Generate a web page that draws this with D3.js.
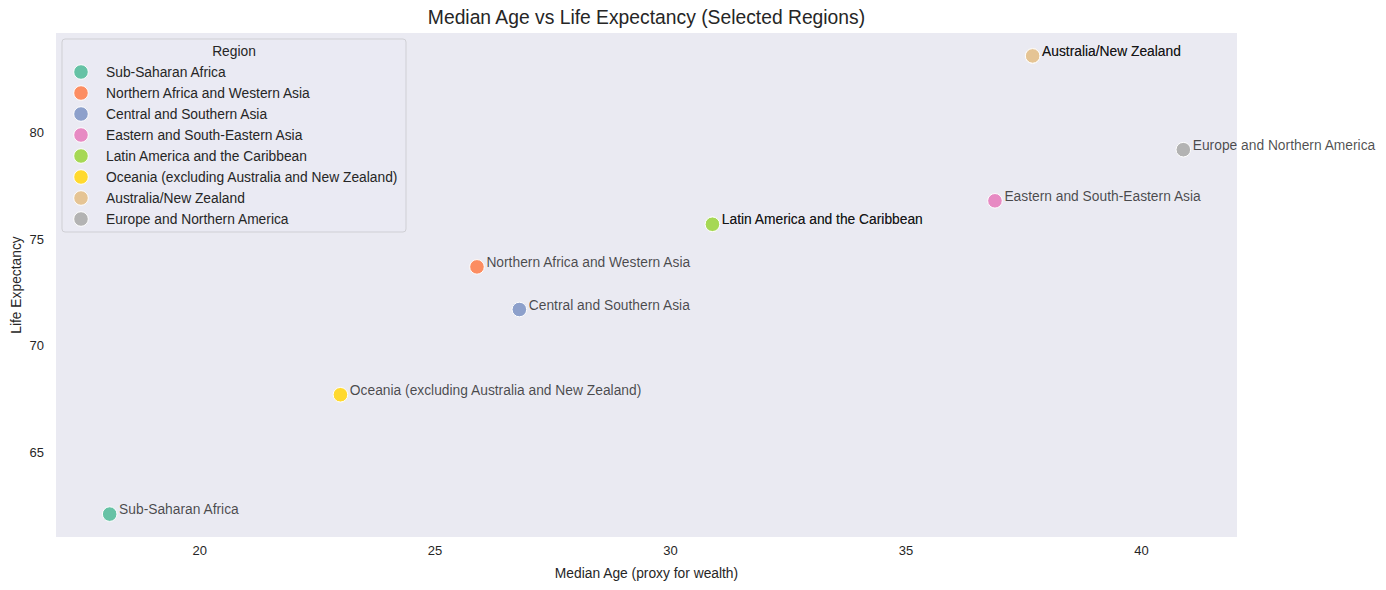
<!DOCTYPE html>
<html>
<head>
<meta charset="utf-8">
<script src="https://cdn.jsdelivr.net/npm/d3@7"></script>
<style>
  html, body { margin: 0; padding: 0; background: #fff; }
  text { font-family: "Liberation Sans", Arial, sans-serif; }
</style>
</head>
<body>
<script>
// rows as they appear in the source table (two regions are listed twice)
const regions = [
  "Sub-Saharan Africa",
  "Northern Africa and Western Asia",
  "Central and Southern Asia",
  "Eastern and South-Eastern Asia",
  "Latin America and the Caribbean",
  "Latin America and the Caribbean",
  "Oceania (excluding Australia and New Zealand)",
  "Australia/New Zealand",
  "Australia/New Zealand",
  "Europe and Northern America"
];
const medianAge = [18.1, 25.9, 26.8, 36.9, 30.9, 30.9, 23.0, 37.7, 37.7, 40.9];
const lifeExpectancy = [62.1, 73.7, 71.7, 76.8, 75.7, 75.7, 67.7, 83.6, 83.6, 79.2];

const legendOrder = [
  "Sub-Saharan Africa",
  "Northern Africa and Western Asia",
  "Central and Southern Asia",
  "Eastern and South-Eastern Asia",
  "Latin America and the Caribbean",
  "Oceania (excluding Australia and New Zealand)",
  "Australia/New Zealand",
  "Europe and Northern America"
];
const palette = ["#66c2a5", "#fc8d62", "#8da0cb", "#e78ac3", "#a6d854", "#ffd92f", "#e5c494", "#b3b3b3"];

const xTicks = [20, 25, 30, 35, 40];
const yTicks = [65, 70, 75, 80];

const width = 1386;
const height = 590;
const margin = { top: 33, right: 149, bottom: 53, left: 56 };
const innerW = width - margin.left - margin.right;
const innerH = height - margin.top - margin.bottom;

const rows = regions.map((r, i) => ({ region: r, x: medianAge[i], y: lifeExpectancy[i] }));

// matplotlib-style 5% padding around the data
function padded(values) {
  const [lo, hi] = d3.extent(values);
  const pad = (hi - lo) * 0.05;
  return [lo - pad, hi + pad];
}

const x = d3.scaleLinear().domain(padded(medianAge)).range([0, innerW]);
const y = d3.scaleLinear().domain(padded(lifeExpectancy)).range([innerH, 0]);
const color = d3.scaleOrdinal().domain(legendOrder).range(palette);

const svg = d3.select("body")
  .append("svg")
  .attr("width", width)
  .attr("height", height);

svg.append("text")
  .attr("x", margin.left + innerW / 2)
  .attr("y", 24)
  .attr("text-anchor", "middle")
  .attr("font-size", "19.3px")
  .attr("fill", "#262626")
  .text("Median Age vs Life Expectancy (Selected Regions)");

const g = svg.append("g")
  .attr("transform", `translate(${margin.left},${margin.top})`);

g.append("rect")
  .attr("width", innerW)
  .attr("height", innerH)
  .attr("fill", "#eaeaf2");

const xAxis = g.append("g")
  .attr("transform", `translate(0,${innerH})`)
  .call(d3.axisBottom(x).tickValues(xTicks).tickSize(0).tickPadding(9));
xAxis.select(".domain").remove();
xAxis.selectAll("text")
  .attr("font-size", "13px")
  .attr("fill", "#262626");

const yAxis = g.append("g")
  .call(d3.axisLeft(y).tickValues(yTicks).tickSize(0).tickPadding(12));
yAxis.select(".domain").remove();
yAxis.selectAll("text")
  .attr("font-size", "13px")
  .attr("fill", "#262626");

svg.append("text")
  .attr("x", margin.left + innerW / 2)
  .attr("y", 578)
  .attr("text-anchor", "middle")
  .attr("font-size", "13.8px")
  .attr("fill", "#262626")
  .text("Median Age (proxy for wealth)");

svg.append("text")
  .attr("transform", `translate(21,${margin.top + innerH / 2}) rotate(-90)`)
  .attr("text-anchor", "middle")
  .attr("font-size", "13.8px")
  .attr("fill", "#262626")
  .text("Life Expectancy");

// points
g.selectAll("circle.pt")
  .data(rows)
  .enter().append("circle")
  .attr("class", "pt")
  .attr("cx", d => x(d.x))
  .attr("cy", d => y(d.y))
  .attr("r", 7.3)
  .attr("fill", d => color(d.region))
  .attr("stroke", "#fff")
  .attr("stroke-width", 1);

// labels, semi-transparent so duplicated rows show darker
g.selectAll("text.lbl")
  .data(rows)
  .enter().append("text")
  .attr("class", "lbl")
  .attr("x", d => x(d.x + 0.2))
  .attr("y", d => y(d.y))
  .attr("font-size", "13.8px")
  .attr("fill", "#000")
  .attr("fill-opacity", 0.7)
  .text(d => d.region);

// legend
const legend = svg.append("g").attr("transform", "translate(62,39)");
legend.append("rect")
  .attr("width", 344)
  .attr("height", 193)
  .attr("rx", 3)
  .attr("fill", "#eaeaf2")
  .attr("fill-opacity", 0.8)
  .attr("stroke", "#cfcfd4")
  .attr("stroke-width", 1);

legend.append("text")
  .attr("x", 172)
  .attr("y", 17)
  .attr("text-anchor", "middle")
  .attr("font-size", "13.8px")
  .attr("fill", "#262626")
  .text("Region");

const items = legend.selectAll("g.item")
  .data(legendOrder)
  .enter().append("g")
  .attr("class", "item")
  .attr("transform", (d, i) => `translate(0,${33 + i * 21})`);

items.append("circle")
  .attr("cx", 19)
  .attr("cy", 0)
  .attr("r", 7.3)
  .attr("fill", d => color(d))
  .attr("stroke", "#fff")
  .attr("stroke-width", 1);

items.append("text")
  .attr("x", 44)
  .attr("y", 5)
  .attr("font-size", "13.8px")
  .attr("fill", "#262626")
  .text(d => d);
</script>
</body>
</html>
